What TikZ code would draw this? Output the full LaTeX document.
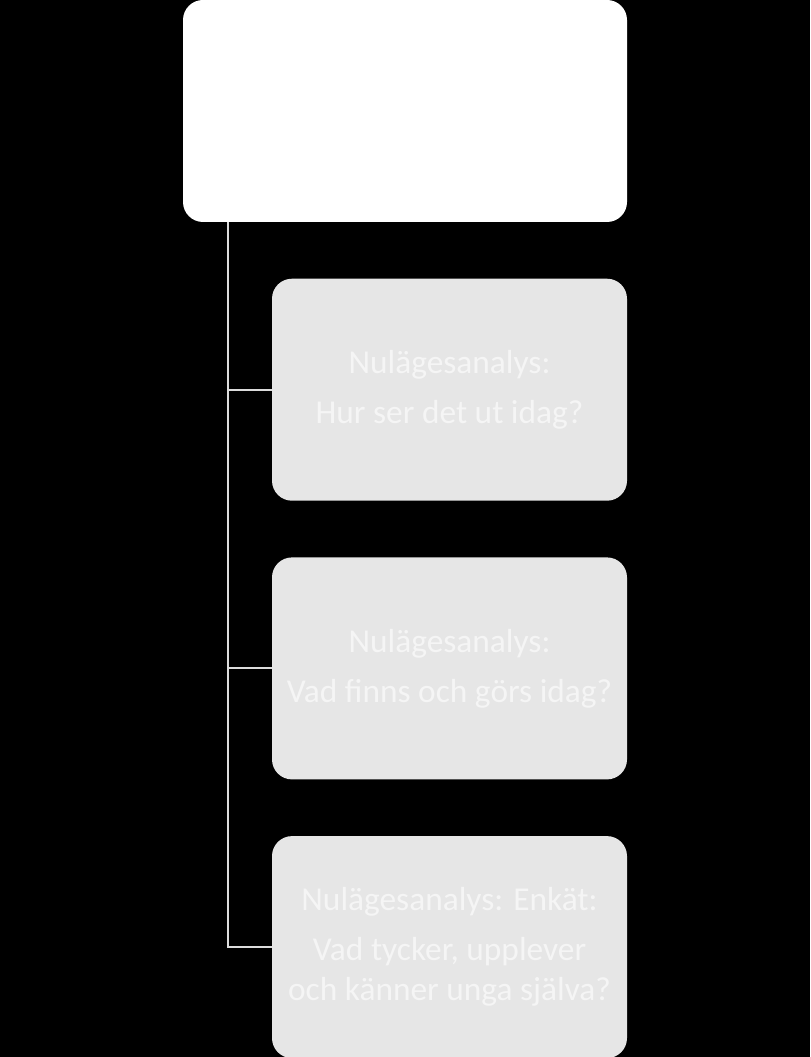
\documentclass[tikz,border=0pt]{standalone}
\usepackage{fontspec}
\setmainfont{Carlito}
\usetikzlibrary{positioning}

\begin{document}
\begin{tikzpicture}
        \definecolor{boxgray}{RGB}{230,230,230}
        \definecolor{textgray}{RGB}{245,245,245}
        \definecolor{linegray}{RGB}{220,220,220}

        \tikzset{
            topbox/.style={draw=none, fill=white, rounded corners=0.4cm,
                minimum width=8.88cm, minimum height=4.44cm},
            subbox/.style={draw=none, fill=boxgray, rounded corners=0.4cm,
                minimum width=7.1cm, minimum height=4.44cm, align=center,
                text=textgray, font=\fontsize{19}{22.8}\selectfont},
            conn/.style={linegray, line width=1.1pt}
        }

        % Background and size
        \fill[black] (0,0) rectangle (16.2,-21.14);
        \useasboundingbox (0,0) rectangle (16.2,-21.14);

        % Top box
        \node[topbox] (top) at (8.1,-2.22) {};

        % The three analysis boxes
        \node[subbox, below=1.12cm of top.south east, anchor=north east] (nul1)
            {Nulägesanalys:\\[0.2cm] Hur ser det ut idag?};
        \node[subbox, below=1.12cm of nul1] (nul2)
            {Nulägesanalys:\\[0.2cm] Vad finns och görs idag?};
        \node[subbox, below=1.12cm of nul2] (nul3)
            {Nulägesanalys: Enkät:\\[0.2cm] Vad tycker, upplever\\ och känner unga själva?};

        % Connectors
        \coordinate (trunk) at ([xshift=0.9cm]top.south west);
        \draw[conn] (trunk) |- (nul1.west);
        \draw[conn] (trunk) |- (nul2.west);
        \draw[conn] (trunk) |- (nul3.west);
    \end{tikzpicture}
\end{document}
